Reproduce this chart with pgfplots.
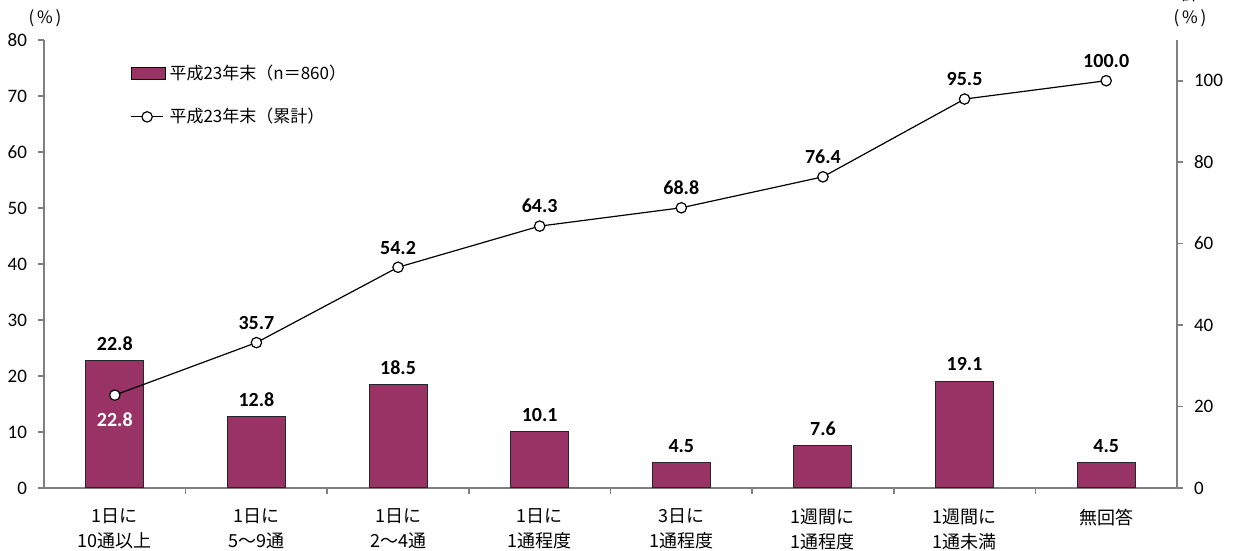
\documentclass[border=0pt]{standalone}
\usepackage{pgfplots}
\pgfplotsset{compat=1.18}
\usepackage{fontspec}
\setmainfont{Carlito}
\newfontfamily\jp{Noto Sans CJK JP}
\definecolor{barcol}{HTML}{993366}
\pgfplotsset{
  mylinelegend/.style={legend image code/.code={\draw[##1, mark repeat=2, mark phase=2] plot coordinates {(0pt,0pt) (8pt,0pt) (16pt,0pt)};}},
  mybarlegend/.style={legend image code/.code={\draw[fill=barcol,draw=black] (0pt,-3pt) rectangle (17pt,3pt);}},
}
\newcommand{\lbl}{\pgfmathprintnumber[assume math mode=true,fixed,fixed zerofill,precision=1]{\pgfplotspointmeta}}
\begin{document}
\begin{tikzpicture}[x=1pt,y=1pt]
\useasboundingbox (-22,-31.5) rectangle (604,244);
\begin{axis}[
  at={(0,0)}, anchor=south west, scale only axis,
  width=566.5pt, height=224pt,
  /pgf/number format/assume math mode=true,
  xmin=-0.5, xmax=7.5, ymin=0, ymax=80,
  axis x line*=bottom, axis y line*=left,
  axis line style={-, draw=gray, line width=0.8pt},
  tick style={draw=gray, line width=0.8pt},
  tick align=outside, major tick length=3pt,
  xtick={0.5,1.5,...,6.5}, xticklabels={},
  ytick={0,10,...,80},
  yticklabel style={font=\fontsize{9.5}{11}\selectfont, xshift=-2pt},
  ybar, bar width=0.41,
  nodes near coords={\lbl},
  nodes near coords style={font=\bfseries\fontsize{10}{12}\selectfont, yshift=1.5pt},
]
\addplot[fill=barcol, draw=black!85, line width=0.5pt] coordinates {
 (0,22.8) (1,12.8) (2,18.5) (3,10.1) (4,4.5) (5,7.6) (6,19.1) (7,4.5)};
\end{axis}
\begin{axis}[
  at={(0,0)}, anchor=south west, scale only axis,
  width=566.5pt, height=224pt,
  /pgf/number format/assume math mode=true,
  xmin=-0.5, xmax=7.5, ymin=0, ymax=110,
  axis x line*=bottom, axis y line*=right,
  axis line style={-, draw=gray, line width=0.8pt},
  x axis line style={draw=none},
  tick style={draw=gray, line width=0.8pt},
  xtick style={draw=none},
  tick align=outside, major tick length=3pt,
  xtick={0,...,7},
  xticklabels={{1日に\\10通以上},{1日に\\5〜9通},{1日に\\2〜4通},{1日に\\1通程度},{3日に\\1通程度},{1週間に\\1通程度},{1週間に\\1通未満},{無回答}},
  xticklabel style={align=center, font=\jp\fontsize{9}{12.5}\selectfont, yshift=-4pt},
  ytick={0,20,...,100},
  yticklabel style={font=\fontsize{9.5}{11}\selectfont, xshift=2pt},
  legend style={at={(0.076,0.955)}, anchor=north west, draw=none, fill=none,
    font=\jp\fontsize{8.5}{10}\selectfont, row sep=9pt, inner sep=0pt,
    cells={anchor=west}},
]
\addlegendimage{mybarlegend}
\addlegendentry{平成23年末（n＝860）}
\addplot[black, line width=0.6pt, mark=*, mark size=2.6pt, mark options={fill=white, draw=black, line width=0.6pt}, mylinelegend]
 coordinates {(0,22.8) (1,35.7) (2,54.2) (3,64.3) (4,68.8) (5,76.4) (6,95.5) (7,100.0)};
\addlegendentry{平成23年末（累計）}
\addplot[draw=none, forget plot,
  nodes near coords={\lbl},
  nodes near coords style={font=\bfseries\fontsize{10}{12}\selectfont, anchor=south, yshift=3pt}]
 coordinates {(1,35.7) (2,54.2) (3,64.3) (4,68.8) (5,76.4) (6,95.5) (7,100.0)};
\addplot[draw=none, forget plot,
  nodes near coords={\lbl},
  nodes near coords style={font=\bfseries\fontsize{10}{12}\selectfont, anchor=north, text=white, yshift=-5pt}]
 coordinates {(0,22.8)};
\end{axis}
\node[font=\jp\fontsize{8.5}{10}\selectfont] at (0.5,235) {(\,\%\,)};
\node[font=\jp\fontsize{8.5}{10}\selectfont] at (573,235) {(\,\%\,)};
\node[font=\jp\fontsize{8.5}{10}\selectfont] at (573,247) {計};
\end{tikzpicture}
\end{document}
